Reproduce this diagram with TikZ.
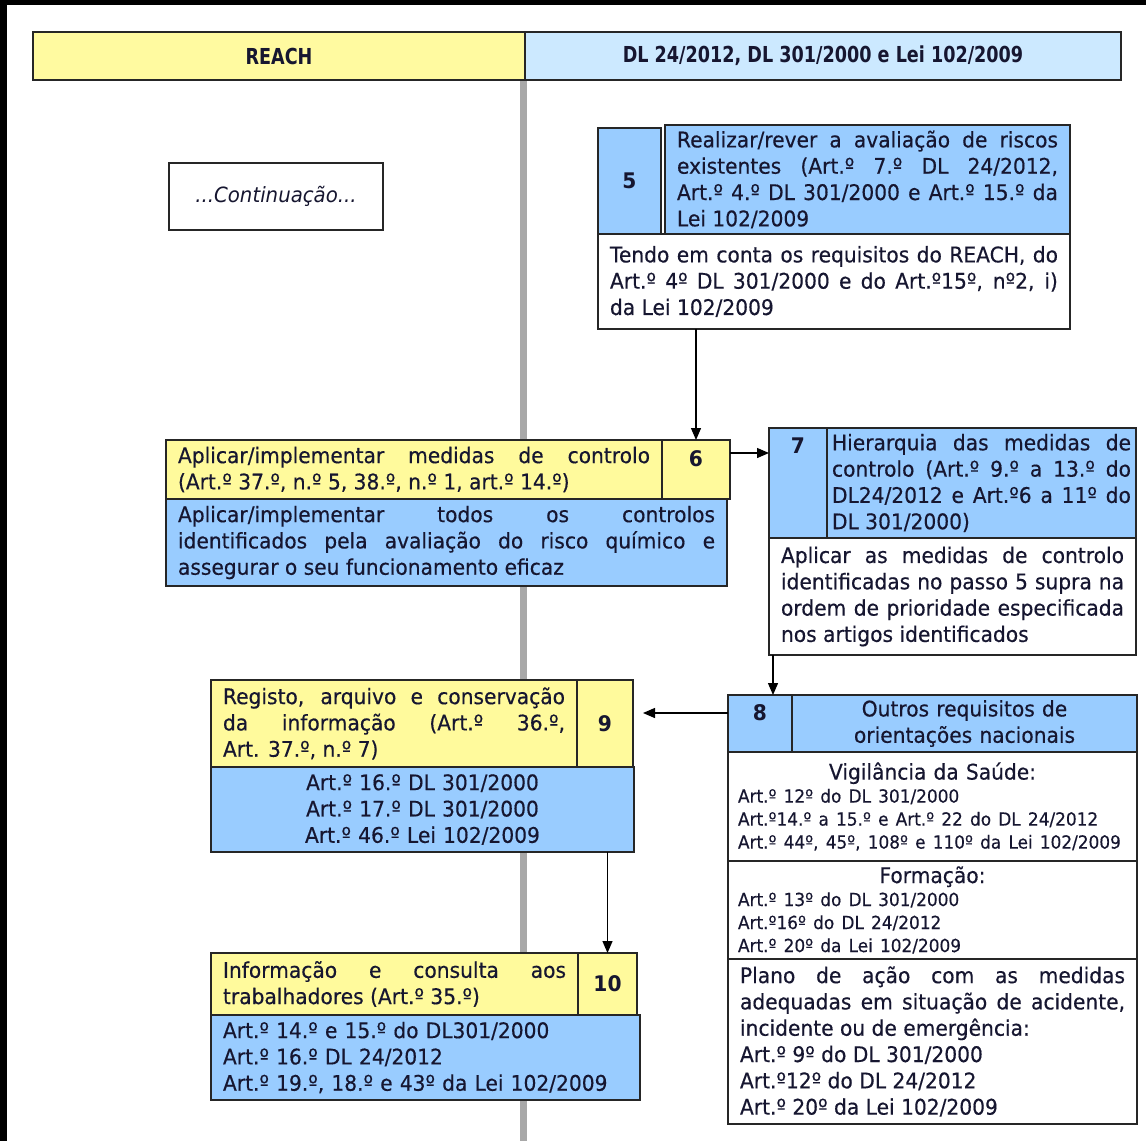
\documentclass[tikz,border=0pt]{standalone}
\usepackage{fontspec}
\setmainfont[FakeStretch=0.94, UprightFeatures={FakeBold=0.4}]{DejaVu Sans}
\newfontfamily\hdrfont[FakeStretch=0.8]{DejaVu Sans}
\usetikzlibrary{arrows.meta}
\definecolor{hy}{HTML}{FFFAA0}
\definecolor{hb}{HTML}{CCE9FF}
\definecolor{ylw}{HTML}{FFFA9C}
\definecolor{blu}{HTML}{99CCFF}
\definecolor{bdr}{HTML}{262626}
\definecolor{txt}{HTML}{161630}
\definecolor{gline}{HTML}{A8A8A8}
\newcommand\mainsz{\fontsize{21.5}{26.3}\selectfont}
\newcommand\smsz{\fontsize{18}{23}\selectfont}
\tolerance=10000 \hbadness=10000 \hyphenpenalty=10000 \exhyphenpenalty=10000
\tikzset{
  cell/.style={draw=bdr, line width=1.5pt, anchor=north west, inner xsep=12pt,
    inner ysep=0pt, outer sep=0pt, text=txt, font=\mainsz},
  hdr/.style={draw=bdr, line width=1.5pt, anchor=north west, inner sep=0pt,
    outer sep=0pt, text=txt, font={\hdrfont\bfseries\fontsize{22}{26}\selectfont}},
  arr/.style={line width=1.3pt, draw=black, -{Triangle[length=12pt,width=10pt]}},
}
\begin{document}
\begin{tikzpicture}[x=1pt,y=-1pt]
\useasboundingbox (0,0) rectangle (1146,1141);
\fill[black] (0,0) rectangle (1146,1141);
\fill[white] (7,5) rectangle (1146,1141);
% vertical gray line
\coordinate (gtop) at (523,80);
\coordinate (gbot) at (523,1141);
\draw[gline, line width=7pt] (gtop) -- (gbot);
% header
\node[hdr, fill=hy, minimum width=492pt, minimum height=48pt] (hA) at (33,32) {REACH};
\node[hdr, fill=hb, minimum width=596pt, minimum height=48pt] (hB) at (525,32) {DL 24/2012, DL 301/2000 e Lei 102/2009};
% continuation
\node[cell, fill=white, minimum width=214pt, minimum height=67pt, font=\fontsize{21}{24}\selectfont\itshape] (cont) at (169,163) {...Continuação...};
% box 5
\node[cell, fill=blu, minimum width=63pt, minimum height=106pt] (b5n) at (598,128) {\textbf{5}};
\node[cell, fill=blu, text width=381pt, minimum height=109pt, align=justify] (b5t) at (665,125)
 {Realizar/rever a avaliação de riscos\linebreak existentes (Art.º 7.º DL 24/2012,\linebreak Art.º 4.º DL 301/2000 e Art.º 15.º da\linebreak Lei 102/2009};
\node[cell, fill=white, text width=448pt, minimum height=95pt, align=justify] (b5w) at (598,234)
 {Tendo em conta os requisitos do REACH, do\linebreak Art.º 4º DL 301/2000 e do Art.º15º, nº2, i)\linebreak da Lei 102/2009};
% box 6
\node[cell, fill=ylw, text width=472pt, minimum height=59pt, align=justify] (b6t) at (166,440)
 {Aplicar/implementar medidas de controlo\linebreak (Art.º 37.º, n.º 5, 38.º, n.º 1, art.º 14.º)};
\node[cell, fill=ylw, minimum width=68pt, minimum height=59pt, text height=26pt, text depth=33pt] (b6n) at (662,440) {\textbf{6}};
\node[cell, fill=blu, text width=537pt, minimum height=87pt, align=justify] (b6b) at (166,499)
 {Aplicar/implementar todos os controlos\linebreak identificados pela avaliação do risco químico e\linebreak assegurar o seu funcionamento eficaz};
% box 7
\node[cell, fill=blu, minimum width=58pt, minimum height=110pt, text height=25pt, text depth=85pt] (b7n) at (769,428) {\textbf{7}};
\node[cell, fill=blu, inner xsep=5pt, text width=299pt, minimum height=110pt, align=justify] (b7t) at (827,428)
 {Hierarquia das medidas de\linebreak controlo (Art.º 9.º a 13.º do\linebreak DL24/2012 e Art.º6 a 11º do\linebreak DL 301/2000)};
\node[cell, fill=white, text width=343pt, minimum height=117pt, align=justify] (b7w) at (769,538)
 {Aplicar as medidas de controlo\linebreak identificadas no passo 5 supra na\linebreak ordem de prioridade especificada\linebreak nos artigos identificados};
% box 8
\node[cell, fill=blu, minimum width=64pt, minimum height=57pt, text height=25pt, text depth=32pt] (b8n) at (728,695) {\textbf{8}};
\node[cell, fill=blu, text width=321pt, minimum height=57pt, align=center] (b8t) at (792,695)
 {Outros requisitos de\\orientações nacionais};
\node[cell, fill=white, inner xsep=10pt, text width=389pt, minimum height=109pt, align=left] (b8a) at (728,752)
 {\makebox[389pt]{Vigilância da Saúde:}\par\smsz Art.º 12º do DL 301/2000\\Art.º14.º a 15.º e Art.º 22 do DL 24/2012\\Art.º 44º, 45º, 108º e 110º da Lei 102/2009\par};
\node[cell, fill=white, inner xsep=10pt, text width=389pt, minimum height=98pt, align=left] (b8b) at (728,861)
 {\makebox[389pt]{Formação:}\par\smsz Art.º 13º do DL 301/2000\\Art.º16º do DL 24/2012\\Art.º 20º da Lei 102/2009\par};
\node[cell, fill=white, text width=385pt, minimum height=165pt, align=justify] (b8c) at (728,959)
 {Plano de ação com as medidas\linebreak adequadas em situação de acidente,\linebreak incidente ou de emergência:\par Art.º 9º do DL 301/2000\par Art.º12º do DL 24/2012\par Art.º 20º da Lei 102/2009};
% box 9
\node[cell, fill=ylw, text width=342pt, minimum height=87pt, align=justify] (b9t) at (211,680)
 {Registo, arquivo e conservação\linebreak da informação (Art.º 36.º,\linebreak Art. 37.º, n.º 7)};
\node[cell, fill=ylw, minimum width=56pt, minimum height=87pt] (b9n) at (577,680) {\textbf{9}};
\node[cell, fill=blu, text width=399pt, minimum height=85pt, align=center] (b9b) at (211,767)
 {Art.º 16.º DL 301/2000\\Art.º 17.º DL 301/2000\\Art.º 46.º Lei 102/2009};
% box 10
\node[cell, fill=ylw, text width=343pt, minimum height=62pt, align=justify] (b10t) at (211,953)
 {Informação e consulta aos\linebreak trabalhadores (Art.º 35.º)};
\node[cell, fill=ylw, minimum width=59pt, minimum height=62pt] (b10n) at (578,953) {\textbf{10}};
\node[cell, fill=blu, text width=405pt, minimum height=85pt, align=left] (b10b) at (211,1015)
 {Art.º 14.º e 15.º do DL301/2000\\Art.º 16.º DL 24/2012\\Art.º 19.º, 18.º e 43º da Lei 102/2009};
% connectors
\draw[arr] (b5w.south -| b6n.north) -- (b6n.north);
\draw[arr] ([yshift=-13pt]b6n.north east) -- ([yshift=-13pt]b6n.north east -| b7n.west);
\draw[arr] ([xshift=4pt]b7w.south west) -- ([xshift=4pt]b7w.south west |- b8n.north);
\draw[arr, shorten >=10pt] ([yshift=-18pt]b8n.north west) -- ([yshift=-18pt]b8n.north west -| b9n.east);
\draw[arr] (b9b.south -| b10n.north) -- (b10n.north);
\end{tikzpicture}
\end{document}
